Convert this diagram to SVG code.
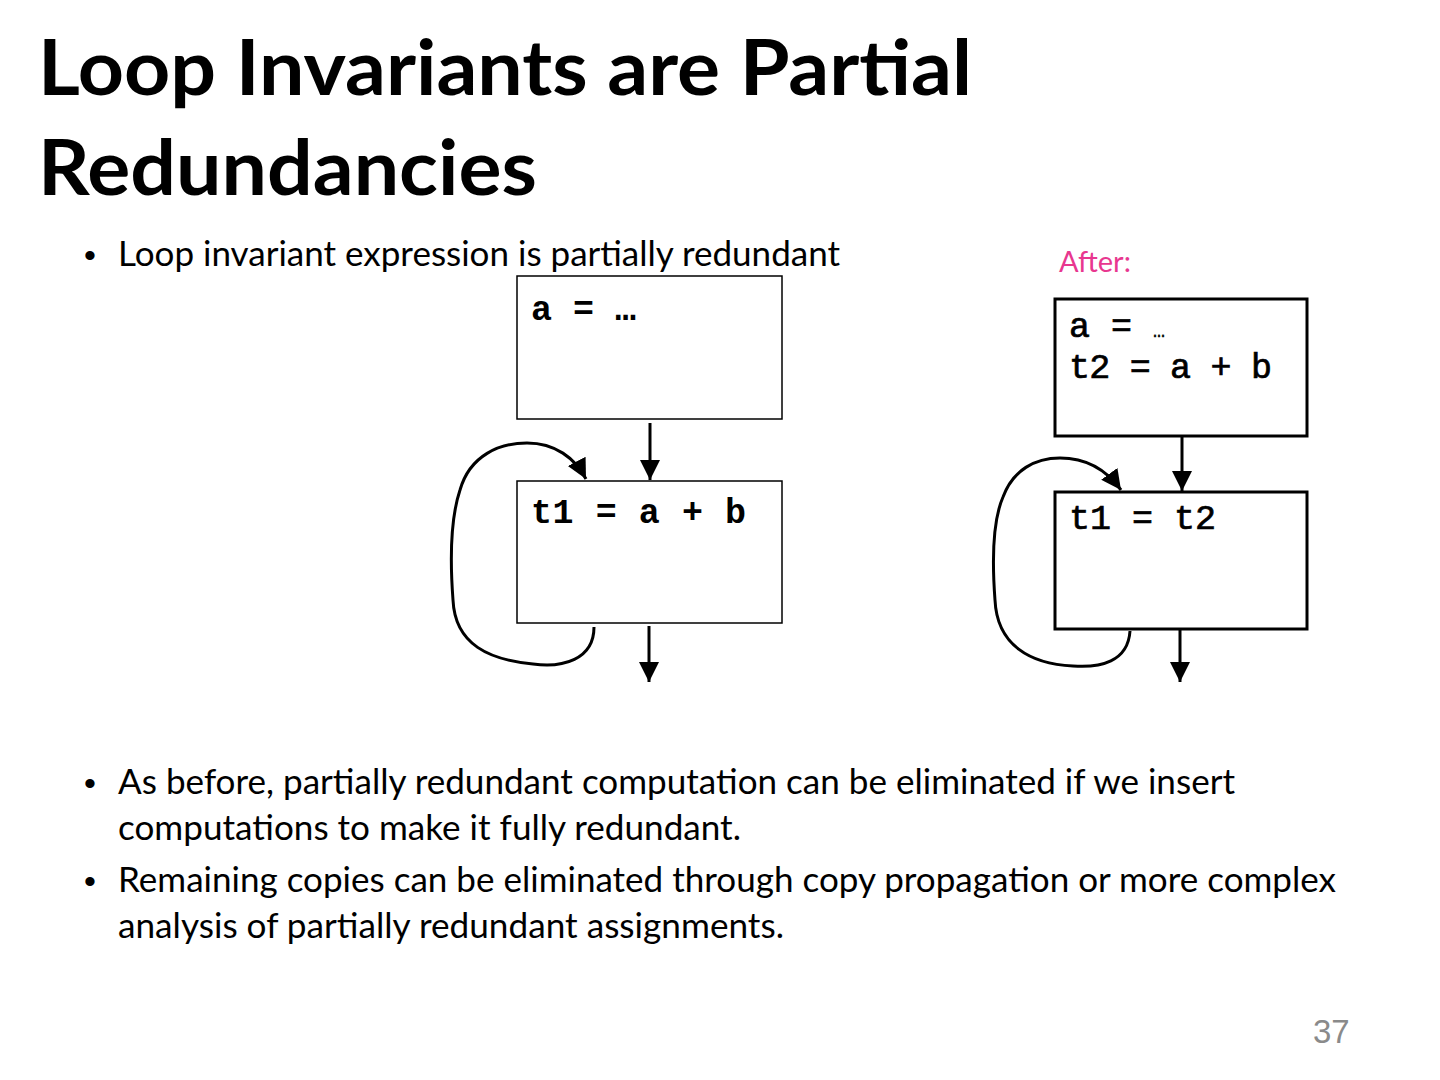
<svg xmlns="http://www.w3.org/2000/svg" width="1440" height="1080" viewBox="0 0 1440 1080">
<style>
.title{font-family:Lato,"Liberation Sans",sans-serif;font-weight:bold;font-size:77px;fill:#000}
.body{font-family:Lato,"Liberation Sans",sans-serif;font-size:34px;fill:#000}
.bul{font-family:"Liberation Sans",Arial,sans-serif;font-size:34px;fill:#000}
.code{font-family:"Liberation Mono","DejaVu Sans Mono",monospace;font-weight:bold;font-size:35px;fill:#000}
.thin{font-weight:normal;stroke:#000;stroke-width:0.7}
.box1{fill:#fff;stroke:#000;stroke-width:1.5}
.box2{fill:#fff;stroke:#000;stroke-width:3}
.edge{fill:none;stroke:#000;stroke-width:3}
</style>
<defs>
<marker id="ah" viewBox="0 0 10 10" refX="10" refY="5" markerWidth="20" markerHeight="22" markerUnits="userSpaceOnUse" orient="auto">
<path d="M0,0 L10,5 L0,10 Z" fill="#000"/>
</marker>
</defs>
<rect width="1440" height="1080" fill="#fff"/>
<text class="title" x="38" y="95" textLength="934" lengthAdjust="spacingAndGlyphs">Loop Invariants are Partial</text>
<text class="title" x="38" y="195" textLength="499" lengthAdjust="spacingAndGlyphs">Redundancies</text>
<g id="bullets">
<text class="bul" x="84" y="267">•</text>
<text class="body" x="118" y="266" textLength="722" lengthAdjust="spacingAndGlyphs">Loop invariant expression is partially redundant</text>
<text class="bul" x="84" y="795">•</text>
<text class="body" x="118" y="794" textLength="1117" lengthAdjust="spacingAndGlyphs">As before, partially redundant computation can be eliminated if we insert</text>
<text class="body" x="118" y="840" textLength="623" lengthAdjust="spacingAndGlyphs">computations to make it fully redundant.</text>
<text class="bul" x="84" y="893">•</text>
<text class="body" x="118" y="892" textLength="1218" lengthAdjust="spacingAndGlyphs">Remaining copies can be eliminated through copy propagation or more complex</text>
<text class="body" x="118" y="938" textLength="666" lengthAdjust="spacingAndGlyphs">analysis of partially redundant assignments.</text>
</g>
<text id="after" x="1059" y="272" style="font-family:Lato,'Liberation Sans',sans-serif;font-size:29px;fill:#e8378f">After:</text>
<g id="L1">
<rect class="box1" x="517" y="276" width="265" height="143"/>
<text class="code" x="531" y="320">a = …</text>
</g>
<g id="L2">
<rect class="box1" x="517" y="481" width="265" height="142"/>
<text class="code" x="531" y="523" textLength="215">t1 = a + b</text>
</g>
<g id="R1">
<rect class="box2" x="1055" y="299" width="252" height="137"/>
<text class="code thin" x="1069" y="337">a = <tspan style="font-size:20px;stroke-width:0.3">…</tspan></text>
<text class="code thin" x="1069" y="378" textLength="203">t2 = a + b</text>
</g>
<g id="R2">
<rect class="box2" x="1055" y="492" width="252" height="137"/>
<text class="code thin" x="1069" y="529">t1 = t2</text>
</g>
<g id="connectors">
<line class="edge" x1="650" y1="423" x2="650" y2="480" marker-end="url(#ah)"/>
<line class="edge" x1="649" y1="626" x2="649" y2="682" marker-end="url(#ah)"/>
<path class="edge" d="M594,627 C594,660 562,668 533,664 C490,660 455,645 453,600 C450,560 450,520 460,490 C470,455 500,443 527,443 C555,443 575,458 586,479" marker-end="url(#ah)"/>
<line class="edge" x1="1182" y1="437" x2="1182" y2="491" marker-end="url(#ah)"/>
<line class="edge" x1="1180" y1="630" x2="1180" y2="682" marker-end="url(#ah)"/>
<path class="edge" d="M1130,631 C1128,662 1100,668 1073,666 C1030,664 997,645 995,600 C992,560 993,520 1003,497 C1013,470 1035,458 1060,458 C1088,458 1108,472 1121,490" marker-end="url(#ah)"/>
</g>
<text id="page" x="1313" y="1043" style="font-family:'Liberation Sans',Arial,sans-serif;font-size:33px;fill:#8a8a8a">37</text>
</svg>
